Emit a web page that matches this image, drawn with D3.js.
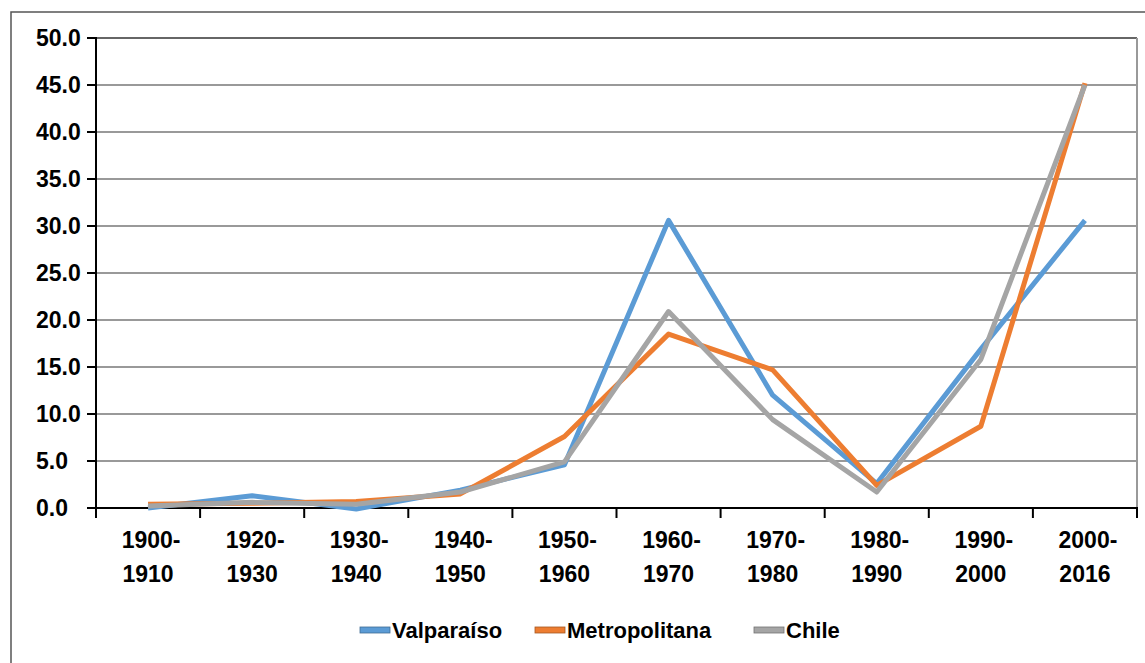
<!DOCTYPE html>
<html lang="es">
<head>
    <meta charset="UTF-8">
    <title>Valparaíso, Metropolitana, Chile</title>
    <script src="https://d3js.org/d3.v7.min.js"></script>
    <style>
        body {
            margin: 0;
            background: white;
            font-family: "Liberation Sans", Arial, sans-serif;
        }
        svg {
            display: block;
        }
    </style>
</head>
<body>
    <svg id="chart"></svg>

    <script>
        // decades shown on the x axis
        const categories = ['1900-1910', '1920-1930', '1930-1940', '1940-1950', '1950-1960',
                            '1960-1970', '1970-1980', '1980-1990', '1990-2000', '2000-2016'];

        const valparaiso    = [0.0, 1.3, -0.1, 1.9, 4.6, 30.6, 12.0, 2.6, 16.9, 30.6];
        const metropolitana = [0.4, 0.5, 0.7, 1.5, 7.6, 18.5, 14.7, 2.4, 8.7, 45.2];
        const chile         = [0.2, 0.6, 0.4, 1.7, 4.9, 20.9, 9.4, 1.7, 15.8, 45.0];

        const yTicks = [0, 5, 10, 15, 20, 25, 30, 35, 40, 45, 50];

        const series = [
            { name: 'Valparaíso', values: valparaiso, color: '#5B9BD5' },
            { name: 'Metropolitana', values: metropolitana, color: '#ED7D31' },
            { name: 'Chile', values: chile, color: '#A5A5A5' }
        ];

        function drawChart() {
            const width = 1145;
            const height = 663;
            const plot = { left: 96, right: 1137, top: 38, bottom: 508 };

            const svg = d3.select('#chart')
                .attr('width', width)
                .attr('height', height);

            // outer frame of the chart (runs off right/bottom edges)
            svg.append('rect')
                .attr('x', 11)
                .attr('y', 12)
                .attr('width', width + 20)
                .attr('height', height + 20)
                .attr('fill', 'none')
                .attr('stroke', '#555')
                .attr('stroke-width', 1.5);

            const x = d3.scaleBand()
                .domain(categories)
                .range([plot.left, plot.right]);

            const y = d3.scaleLinear()
                .domain([0, 50])
                .range([plot.bottom, plot.top]);

            // gridlines
            svg.append('g')
                .selectAll('line')
                .data(yTicks.filter(d => d > 0))
                .join('line')
                .attr('x1', plot.left)
                .attr('x2', plot.right)
                .attr('y1', d => y(d))
                .attr('y2', d => y(d))
                .attr('stroke', d => d === 50 ? '#666' : '#999')
                .attr('stroke-width', 2);

            // right border of plot area
            svg.append('line')
                .attr('x1', plot.right)
                .attr('x2', plot.right)
                .attr('y1', plot.top)
                .attr('y2', plot.bottom)
                .attr('stroke', '#999')
                .attr('stroke-width', 2);

            // y axis
            svg.append('line')
                .attr('x1', plot.left)
                .attr('x2', plot.left)
                .attr('y1', plot.top - 1)
                .attr('y2', plot.bottom + 10)
                .attr('stroke', '#000')
                .attr('stroke-width', 2);

            const yAxis = svg.append('g');
            yAxis.selectAll('line')
                .data(yTicks)
                .join('line')
                .attr('x1', plot.left - 9)
                .attr('x2', plot.left)
                .attr('y1', d => y(d))
                .attr('y2', d => y(d))
                .attr('stroke', '#000')
                .attr('stroke-width', 2);

            yAxis.selectAll('text')
                .data(yTicks)
                .join('text')
                .attr('x', 36)
                .attr('y', d => y(d))
                .attr('dy', '0.36em')
                .attr('text-anchor', 'start')
                .attr('font-size', '23px')
                .attr('font-weight', 'bold')
                .attr('fill', '#000')
                .text(d => d.toFixed(1));

            // x axis
            svg.append('line')
                .attr('x1', plot.left)
                .attr('x2', plot.right + 1)
                .attr('y1', plot.bottom)
                .attr('y2', plot.bottom)
                .attr('stroke', '#000')
                .attr('stroke-width', 2);

            const boundaries = categories.map(c => x(c)).concat([plot.right]);
            svg.append('g')
                .selectAll('line')
                .data(boundaries)
                .join('line')
                .attr('x1', d => d)
                .attr('x2', d => d)
                .attr('y1', plot.bottom)
                .attr('y2', plot.bottom + 10)
                .attr('stroke', '#000')
                .attr('stroke-width', 2);

            const xLabels = svg.append('g')
                .selectAll('text')
                .data(categories)
                .join('text')
                .attr('text-anchor', 'middle')
                .attr('font-size', '23px')
                .attr('font-weight', 'bold')
                .attr('fill', '#000');

            xLabels.append('tspan')
                .attr('x', d => x(d) + x.bandwidth() / 2 + 3)
                .attr('y', 548)
                .text(d => d.split('-')[0] + '-');

            xLabels.append('tspan')
                .attr('x', d => x(d) + x.bandwidth() / 2)
                .attr('y', 582)
                .text(d => d.split('-')[1]);

            // lines
            const line = d3.line()
                .x((d, i) => x(categories[i]) + x.bandwidth() / 2)
                .y(d => y(d));

            series.forEach(s => {
                svg.append('path')
                    .datum(s.values)
                    .attr('d', line)
                    .attr('fill', 'none')
                    .attr('stroke', s.color)
                    .attr('stroke-width', 5)
                    .attr('stroke-linejoin', 'round');
            });

            // legend
            const legendX = [360, 535, 754];
            const legend = svg.append('g');
            series.forEach((s, i) => {
                const item = legend.append('g')
                    .attr('transform', `translate(${legendX[i]}, 630)`);
                item.append('rect')
                    .attr('x', 0)
                    .attr('y', -3)
                    .attr('width', 30)
                    .attr('height', 6)
                    .attr('fill', s.color)
                    .attr('stroke', d3.color(s.color).darker(1))
                    .attr('stroke-width', 0.8);
                item.append('text')
                    .attr('x', 32)
                    .attr('y', 0)
                    .attr('dy', '0.36em')
                    .attr('font-size', '22px')
                    .attr('font-weight', 'bold')
                    .attr('fill', '#000')
                    .text(s.name);
            });
        }

        drawChart();
    </script>
</body>
</html>
